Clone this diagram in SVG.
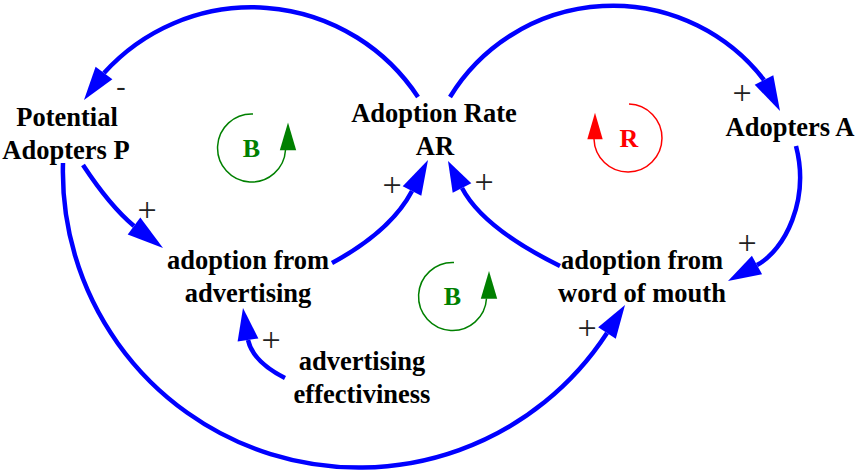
<svg xmlns="http://www.w3.org/2000/svg" width="858" height="472" viewBox="0 0 858 472">
  <style>
    .node { font-family: "Liberation Serif", "Times New Roman", serif; font-weight: bold; font-size: 26.5px; fill: #000; text-anchor: middle; }
    .link { fill: none; stroke: #0000ff; stroke-width: 4.5; }
    .head { fill: #0000ff; stroke: none; }
    .pol { font-family: "Liberation Serif", "Times New Roman", serif; font-size: 34px; fill: #222; text-anchor: middle; }
    .neg { font-family: "Liberation Serif", "Times New Roman", serif; font-size: 28px; fill: #222; text-anchor: middle; }
    .loopB { fill: none; stroke: #008000; stroke-width: 1.5; }
    .loopR { fill: none; stroke: #ff0000; stroke-width: 1.5; }
    .loopText { font-family: "Liberation Serif", "Times New Roman", serif; font-weight: bold; font-size: 26px; text-anchor: middle; }
  </style>
  <rect width="858" height="472" fill="#fff"/>

  <!-- causal links -->
  <g id="connectors">
    <!-- Adoption Rate -> Potential Adopters (negative) -->
    <path class="link" d="M418,97 A199,199 0 0 0 104,73"/>
    <polygon class="head" points="84,100 112.4,79.2 95.6,66.8"/>
    <text class="neg" x="121" y="95">-</text>

    <!-- Adoption Rate -> Adopters -->
    <path class="link" d="M450,97 A191,191 0 0 1 764,80"/>
    <polygon class="head" points="780,111 754.7,84.8 773.3,75.2"/>
    <text class="pol" x="742" y="103.5">+</text>

    <!-- Potential Adopters -> adoption from advertising -->
    <path class="link" d="M83,165 Q110,206 134,226"/>
    <polygon class="head" points="163,248 127.7,234.4 140.3,217.6"/>
    <text class="pol" x="147" y="220.5">+</text>

    <!-- adoption from advertising -> Adoption Rate -->
    <path class="link" d="M332,263 Q391,231 412,191"/>
    <polygon class="head" points="428,160 421.3,195.8 402.7,186.2"/>
    <text class="pol" x="392" y="195.5">+</text>

    <!-- adoption from word of mouth -> Adoption Rate -->
    <path class="link" d="M560,266 Q483,228 462,188"/>
    <polygon class="head" points="448,161 471.3,183.2 452.7,192.8"/>
    <text class="pol" x="484" y="193">+</text>

    <!-- Adopters -> adoption from word of mouth -->
    <path class="link" d="M796,146 C810,200 785,250 757,265"/>
    <polygon class="head" points="728,281 751.9,255.8 762.1,274.2"/>
    <text class="pol" x="747" y="253.5">+</text>

    <!-- advertising effectiviness -> adoption from advertising -->
    <path class="link" d="M285,378 Q253,362 248,340"/>
    <polygon class="head" points="243,308 258.4,338.4 237.6,341.6"/>
    <text class="pol" x="271" y="350.5">+</text>

    <!-- Potential Adopters -> adoption from word of mouth -->
    <path class="link" d="M63,163 A296,296 0 0 0 607,333"/>
    <polygon class="head" points="625,305 615.8,338.7 598.2,327.3"/>
    <text class="pol" x="587" y="338.5">+</text>
  </g>

  <!-- stocks and variables -->
  <g id="potential-adopters">
    <text class="node" x="67" y="126">Potential</text>
    <text class="node" x="66" y="159">Adopters P</text>
  </g>
  <g id="adoption-rate">
    <text class="node" x="434" y="122">Adoption Rate</text>
    <text class="node" x="435" y="155">AR</text>
  </g>
  <g id="adopters">
    <text class="node" x="790" y="136">Adopters A</text>
  </g>
  <g id="adoption-advertising">
    <text class="node" x="248" y="269">adoption from</text>
    <text class="node" x="248" y="302">advertising</text>
  </g>
  <g id="adoption-word-of-mouth">
    <text class="node" x="642" y="269">adoption from</text>
    <text class="node" x="642" y="302">word of mouth</text>
  </g>
  <g id="advertising-effectiveness">
    <text class="node" x="362" y="370">advertising</text>
    <text class="node" x="362" y="403">effectiviness</text>
  </g>

  <!-- loop identifiers -->
  <g id="loop-b1" transform="translate(251.5,148)">
    <path class="loopB" d="M1.5,-34 A34,34 0 1 0 34,2"/>
    <polygon fill="#008000" points="36.5,-25.5 28.3,2.3 44.7,2.3"/>
    <text class="loopText" x="0" y="8.7" fill="#008000">B</text>
  </g>
  <g id="loop-b2" transform="translate(452.5,296.5)">
    <path class="loopB" d="M1.5,-34 A34,34 0 1 0 34,2"/>
    <polygon fill="#008000" points="36.5,-25.5 28.3,2.3 44.7,2.3"/>
    <text class="loopText" x="0" y="8.7" fill="#008000">B</text>
  </g>
  <g id="loop-r" transform="translate(627.8,137.8)">
    <path class="loopR" d="M1.2,-33.8 A34,34 0 1 1 -33.8,1.2"/>
    <polygon fill="#ff0000" points="-32.8,-25.1 -40.5,1.5 -25.1,1.5"/>
    <text class="loopText" x="1" y="9" fill="#ff0000">R</text>
  </g>
</svg>
